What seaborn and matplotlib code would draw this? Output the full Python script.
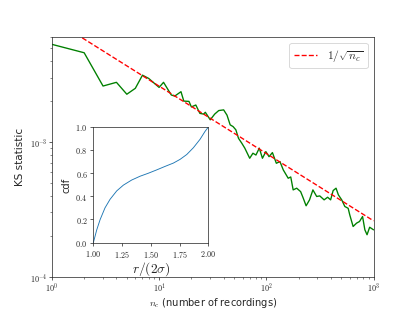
import numpy as np
import pandas as pd
import seaborn as sns
import matplotlib.pyplot as plt
from matplotlib.ticker import FuncFormatter

# KS statistic vs number of recordings
n_rec = [1, 2, 3, 4, 5, 6, 7, 8, 10, 11, 13, 14, 16, 17, 19, 20, 22, 24, 26, 27,
         30, 33, 36, 40, 43, 46, 49, 52, 55, 59, 63, 70, 75, 80, 86, 92, 99, 106,
         114, 124, 134, 144, 160, 169, 178, 192, 209, 221, 235, 253, 272, 295,
         315, 346, 373, 398, 420, 447, 470, 505, 540, 580, 600, 645, 695, 740,
         790, 830, 870, 920, 1000]
ks_e3 = [5.3, 4.59, 2.6, 2.77, 2.26, 2.5, 3.13, 2.96, 2.54, 2.77, 2.23, 2.19, 2.36,
         2.01, 2.0, 1.82, 1.88, 1.63, 1.61, 1.66, 1.46, 1.61, 1.71, 1.73, 1.58, 1.34,
         1.30, 1.23, 1.065, 0.98, 0.90, 0.757, 0.825, 0.80, 0.90, 0.757, 0.848,
         0.778, 0.834, 0.695, 0.715, 0.62, 0.538, 0.55, 0.441, 0.454, 0.428, 0.383,
         0.336, 0.372, 0.441, 0.394, 0.398, 0.372, 0.389, 0.372, 0.436, 0.454,
         0.405, 0.372, 0.332, 0.322, 0.288, 0.236, 0.25, 0.257, 0.28, 0.223, 0.205,
         0.233, 0.223]
ks = [v * 1e-3 for v in ks_e3]

# 1/sqrt(n_c) reference line, end points
ref_n = [1, 1000]
ref_ks = [8.2e-3, 2.6e-4]

# inset cdf
r_val = [1.0, 1.029, 1.058, 1.101, 1.145, 1.203, 1.261, 1.333, 1.406, 1.478,
         1.551, 1.623, 1.696, 1.754, 1.812, 1.87, 1.928, 1.971, 2.0]
cdf = [0.0, 0.109, 0.197, 0.3, 0.374, 0.447, 0.497, 0.541, 0.574, 0.6,
       0.629, 0.659, 0.688, 0.72, 0.762, 0.821, 0.894, 0.962, 1.0]

sns.set_style('ticks')
plt.rcParams['mathtext.fontset'] = 'cm'
plt.rcParams['font.family'] = ['DejaVu Sans']

fig = plt.figure(figsize=(6.4, 4.8), dpi=64.85)
ax = fig.add_subplot(111)

df = pd.DataFrame({'n': n_rec, 'ks': ks})
sns.lineplot(data=df, x='n', y='ks', color='green', lw=1.5, ax=ax)
sns.lineplot(x=ref_n, y=ref_ks, color='red', linestyle='--', lw=1.5,
             label=r'$1/\sqrt{n_c}$', ax=ax)

ax.set_xscale('log')
ax.set_yscale('log')
ax.set_xlim(1, 1000)
ax.set_ylim(1e-4, 6.0e-3)
logfmt = FuncFormatter(lambda v, p: r'$10^{%d}$' % round(np.log10(v)))
ax.xaxis.set_major_formatter(logfmt)
ax.yaxis.set_major_formatter(logfmt)
ax.tick_params(labelsize=9, pad=1.5)
ax.set_xlabel(r'$n_c$ (number of recordings)', fontsize=11, labelpad=2)
ax.set_ylabel('KS statistic', fontsize=11.5, labelpad=5)
ax.legend(loc='upper right', fontsize=13, handlelength=2.0)

ins = fig.add_axes([0.225, 0.22, 0.277, 0.371])
sns.lineplot(x=r_val, y=cdf, color='#1f77b4', lw=1.0, ax=ins)
ins.set_xlim(1, 2)
ins.set_ylim(0, 1)
ins.set_xticks([1.0, 1.25, 1.5, 1.75, 2.0])
ins.set_yticks([0, 0.2, 0.4, 0.6, 0.8, 1.0])
ins.xaxis.set_major_formatter(FuncFormatter(lambda v, p: r'$%.2f$' % v))
ins.yaxis.set_major_formatter(FuncFormatter(lambda v, p: r'$%.1f$' % v))
ins.tick_params(labelsize=9, pad=3)
ins.set_xlabel(r'$r/(2\sigma)$', fontsize=15, labelpad=1)
ins.set_ylabel('cdf', fontsize=11)

plt.savefig('out.png', dpi=64.85)
